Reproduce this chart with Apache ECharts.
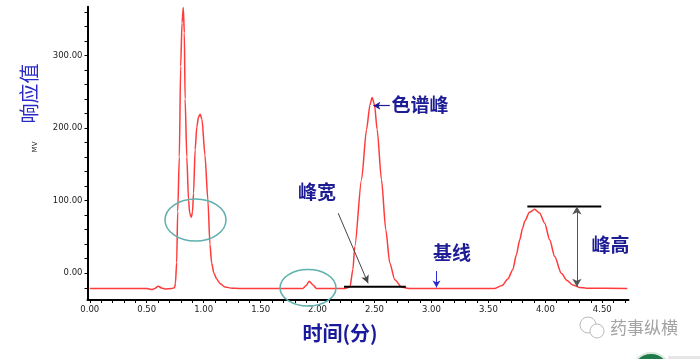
<!DOCTYPE html>
<html>
<head>
<meta charset="utf-8">
<script src="https://cdn.jsdelivr.net/npm/echarts@6/dist/echarts.min.js"></script>
<style>
html,body{margin:0;padding:0;background:#fff;}
#chart{width:700px;height:359px;}
</style>
</head>
<body>
<div id="chart"></div>
<script>
// ---- data (time in minutes, response in mV) ----
const times = [0.00,0.50,0.52,0.545,0.57,0.60,0.635,0.66,0.72,0.744,0.752,0.763,0.772,0.786,0.798,0.810,0.821,0.830,0.837,0.852,0.867,0.878,0.892,0.902,0.911,0.925,0.940,0.955,0.969,0.985,1.011,1.037,1.055,1.070,1.090,1.115,1.143,1.187,1.25,1.32,1.87,1.90,1.926,1.96,1.99,2.24,2.284,2.31,2.327,2.386,2.43,2.46,2.479,2.50,2.523,2.561,2.599,2.634,2.678,2.737,2.80,3.55,3.62,3.67,3.714,3.745,3.775,3.80,3.82,3.86,3.906,3.95,3.994,4.038,4.082,4.14,4.19,4.24,4.30,4.36,4.72];
const signal = [-21,-21,-21.5,-22.5,-21,-18,-20.5,-21.5,-21,-20,-14,15,85,160,285,345,366,331,240,160,101,82,77,85,110,170,202,215,219,212,163,101,40,14,0,-8,-14,-19,-20.5,-21,-21,-17,-11,-16,-21,-21,-19,5,37,129,198,232,242,232,198,129,60,14,-9,-19,-21,-21,-17,-8,5,25,46,62,72,84,88,83,69,46,23,0,-10,-16,-19.5,-20.5,-21];
const xTickLabels = [0,0.5,1.0,1.5,2.0,2.5,3.0,3.5,4.0,4.5];
const yTickLabels = [0,100,200,300];
const xMinorTicks = [];
for (let i = 0; i <= 47; i++) xMinorTicks.push(+(i * 0.1).toFixed(1));
const yMinorTicks = [];
for (let v = -20; v <= 360; v += 20) yMinorTicks.push(v);

// annotation anchors (data coords)
const peakWidthLine = [[2.232, -18.5], [2.775, -18.5]];
const peakHeightLine = [[3.842, 91.8], [4.491, 91.8]];
const heightArrow = [[4.277, 91.8], [4.277, -18.5]];
const widthArrow = [[2.181, 82.7], [2.444, -13.8]];
const peakArrow = [[2.634, 230.8], [2.49, 230.8]];
const baseArrow = [[3.044, 3], [3.044, -19.5]];

const chart = echarts.init(document.getElementById('chart'), null, {renderer: 'canvas'});
const lab = {fontFamily: 'DejaVu Sans', fontSize: 8.5, color: '#222'};
const blue = '#1c1c94';
const cjk = '"Noto Sans CJK SC", sans-serif';

chart.setOption({
  animation: false,
  backgroundColor: '#fff',
  grid: {left: 87.5, right: 71.5, top: 6.7, bottom: 59, containLabel: false},
  xAxis: {
    type: 'value', min: -0.02, max: 4.73,
    axisLine: {show: true, onZero: false, lineStyle: {color: '#000', width: 2}},
    axisTick: {show: true, length: 3, customValues: xMinorTicks, lineStyle: {color: '#000', width: 1}},
    axisLabel: Object.assign({customValues: xTickLabels, margin: 5, formatter: v => v.toFixed(2)}, lab),
    splitLine: {show: false}
  },
  yAxis: {
    type: 'value', min: -36.8, max: 367,
    axisLine: {show: true, onZero: false, lineStyle: {color: '#000', width: 2}},
    axisTick: {show: true, length: 3, customValues: yMinorTicks, lineStyle: {color: '#000', width: 1}},
    axisLabel: Object.assign({customValues: yTickLabels, margin: 5, formatter: v => v.toFixed(2)}, lab),
    splitLine: {show: false}
  },
  series: [
    {
      type: 'line', data: times.map((t, i) => [t, signal[i]]),
      showSymbol: false, smooth: 0.25, smoothMonotone: 'x',
      lineStyle: {color: '#ff3b3b', width: 1.5}, z: 3
    },
    {
      type: 'line', data: peakWidthLine, showSymbol: false,
      lineStyle: {color: '#000', width: 2}, z: 4
    },
    {
      type: 'line', data: peakHeightLine, showSymbol: false,
      lineStyle: {color: '#000', width: 2}, z: 4
    },
    {
      type: 'line', data: [], z: 5,
      markLine: {
        silent: true, animation: false, label: {show: false},
        data: [
          [{coord: heightArrow[0], symbol: 'arrow', symbolSize: [7, 8]}, {coord: heightArrow[1], symbol: 'arrow', symbolSize: [7, 8], lineStyle: {color: '#555', width: 1, type: 'solid'}}],
          [{coord: widthArrow[0], symbol: 'none'}, {coord: widthArrow[1], symbol: 'arrow', symbolSize: [6, 8], lineStyle: {color: '#444', width: 1, type: 'solid'}}],
          [{coord: peakArrow[0], symbol: 'none'}, {coord: peakArrow[1], symbol: 'arrow', symbolSize: [6, 7], lineStyle: {color: blue, width: 1.2, type: 'solid'}}],
          [{coord: baseArrow[0], symbol: 'none'}, {coord: baseArrow[1], symbol: 'arrow', symbolSize: [6, 7], lineStyle: {color: '#2a2ad0', width: 1, type: 'solid'}}]
        ]
      }
    }
  ],
  graphic: [
    {type: 'ellipse', shape: {cx: 195.5, cy: 220, rx: 30.5, ry: 21}, style: {fill: 'none', stroke: '#5fb0ae', lineWidth: 1.5}, z: 10},
    {type: 'ellipse', shape: {cx: 308, cy: 287.7, rx: 28, ry: 18.3}, style: {fill: 'none', stroke: '#5fb0ae', lineWidth: 1.5}, z: 10},
    {type: 'text', x: 29, y: 93.5, rotation: Math.PI / 2, style: {text: '响应值', font: '20px ' + cjk, fill: '#2a2ac8', textAlign: 'center', textVerticalAlign: 'middle'}},
    {type: 'text', x: 35.5, y: 147, rotation: Math.PI / 2, style: {text: 'MV', font: '7px "DejaVu Sans"', fill: '#222', textAlign: 'center', textVerticalAlign: 'middle'}},
    {type: 'text', x: 340, y: 333, style: {text: '时间(分)', font: 'bold 20px ' + cjk, fill: '#1a1a9c', textAlign: 'center', textVerticalAlign: 'middle'}},
    {type: 'text', x: 391.5, y: 105, style: {text: '色谱峰', font: 'bold 19px ' + cjk, fill: blue, textAlign: 'left', textVerticalAlign: 'middle'}},
    {type: 'text', x: 298, y: 192, style: {text: '峰宽', font: 'bold 19px ' + cjk, fill: blue, textAlign: 'left', textVerticalAlign: 'middle'}},
    {type: 'text', x: 433, y: 253, style: {text: '基线', font: 'bold 19px ' + cjk, fill: blue, textAlign: 'left', textVerticalAlign: 'middle'}},
    {type: 'text', x: 591.5, y: 245, style: {text: '峰高', font: 'bold 19px ' + cjk, fill: blue, textAlign: 'left', textVerticalAlign: 'middle'}},
    {type: 'circle', shape: {cx: 588, cy: 325, r: 8}, style: {fill: '#fff', stroke: '#bbb', lineWidth: 1}},
    {type: 'circle', shape: {cx: 597, cy: 331, r: 7}, style: {fill: '#fff', stroke: '#bbb', lineWidth: 1}},
    {type: 'text', x: 610, y: 328, style: {text: '药事纵横', font: '17px ' + cjk, fill: '#a3a3a3', textAlign: 'left', textVerticalAlign: 'middle'}},
    {type: 'circle', shape: {cx: 651, cy: 372, r: 19}, style: {fill: '#1f7a4a', stroke: '#d8e8dc', lineWidth: 2}},
    {type: 'rect', shape: {x: 668, y: 356, width: 32, height: 3}, style: {fill: '#e6e6e6'}}
  ]
});
</script>
</body>
</html>
